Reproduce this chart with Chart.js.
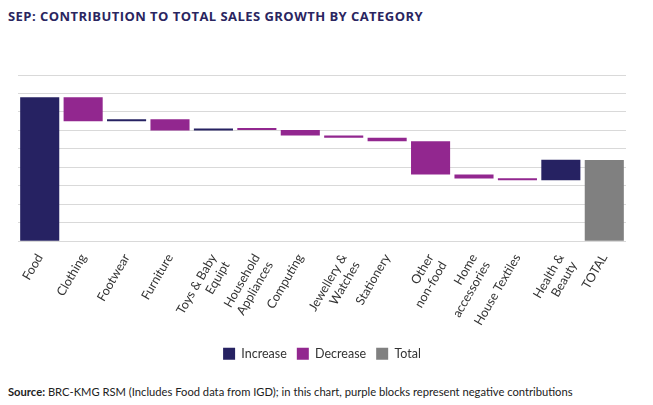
<!DOCTYPE html>
<html>
<head>
<meta charset="utf-8">
<script src="https://cdn.jsdelivr.net/npm/chart.js"></script>
<style>
  body { margin: 0; background: #fff; width: 653px; height: 405px; overflow: hidden; position: relative; font-family: Lato, sans-serif; }
  #title { position: absolute; left: 8px; top: 7px; font-family: "Open Sans", sans-serif; font-weight: 700; font-size: 13px; color: #2a2560; letter-spacing: 0.45px; }
  #chartBox { position: absolute; left: 0; top: 50px; width: 653px; height: 320px; }
  #source { position: absolute; left: 8px; top: 385px; font-size: 11.2px; color: #222; }
</style>
</head>
<body>
<div id="title">SEP: CONTRIBUTION TO TOTAL SALES GROWTH BY CATEGORY</div>
<div id="chartBox"><canvas id="chart"></canvas></div>
<div id="source"><b>Source:</b> BRC-KMG RSM (Includes Food data from IGD); in this chart, purple blocks represent negative contributions</div>
<script>
// categories and contributions (gridline units)
const categories = ['Food', 'Clothing', 'Footwear', 'Furniture', ['Toys & Baby', 'Equipt'], ['Household', 'Appliances'],
  'Computing', ['Jewellery &', 'Watches'], 'Stationery', ['Other', 'non-food'], ['Home', 'accessories'],
  'House Textiles', ['Health &', 'Beauty'], 'TOTAL'];
const contributions = [7.8, -1.3, 0.1, -0.6, 0.07, -0.05, -0.3, -0.12, -0.18, -1.8, -0.22, -0.1, 1.12];
const totalValue = 4.4;

// build the floating bar ranges
const increaseData = [];
const decreaseData = [];
const totalData = [];
let running = 0;
contributions.forEach(c => {
  const start = running;
  running += c;
  if (c >= 0) { increaseData.push([start, running]); decreaseData.push(null); }
  else { increaseData.push(null); decreaseData.push([running, start]); }
  totalData.push(null);
});
increaseData.push(null);
decreaseData.push(null);
totalData.push([0, totalValue]);

const common = { grouped: false, barPercentage: 0.9, categoryPercentage: 1.0, minBarLength: 2, borderWidth: 0 };

new Chart(document.getElementById('chart'), {
  type: 'bar',
  data: {
    labels: categories,
    datasets: [
      Object.assign({ label: 'Increase', data: increaseData, backgroundColor: '#262262' }, common),
      Object.assign({ label: 'Decrease', data: decreaseData, backgroundColor: '#92278f' }, common),
      Object.assign({ label: 'Total', data: totalData, backgroundColor: '#808080' }, common)
    ]
  },
  options: {
    responsive: true,
    maintainAspectRatio: false,
    animation: false,
    layout: { padding: { left: 18, right: 27, top: 25, bottom: 0 } },
    scales: {
      x: {
        grid: { display: false },
        border: { display: false },
        ticks: { color: '#333', font: { family: 'Lato', size: 12.5 }, minRotation: 60, maxRotation: 60, autoSkip: false, padding: 2 }
      },
      y: {
        min: 0, max: 9,
        ticks: { display: false, stepSize: 1 },
        border: { display: false },
        grid: { color: '#d9d9d9', lineWidth: 1, drawTicks: false }
      }
    },
    plugins: {
      legend: {
        position: 'bottom',
        labels: { boxWidth: 12, boxHeight: 12, color: '#333', font: { family: 'Lato', size: 12.5 }, padding: 10 }
      },
      tooltip: { enabled: false }
    }
  }
});
</script>
</body>
</html>
